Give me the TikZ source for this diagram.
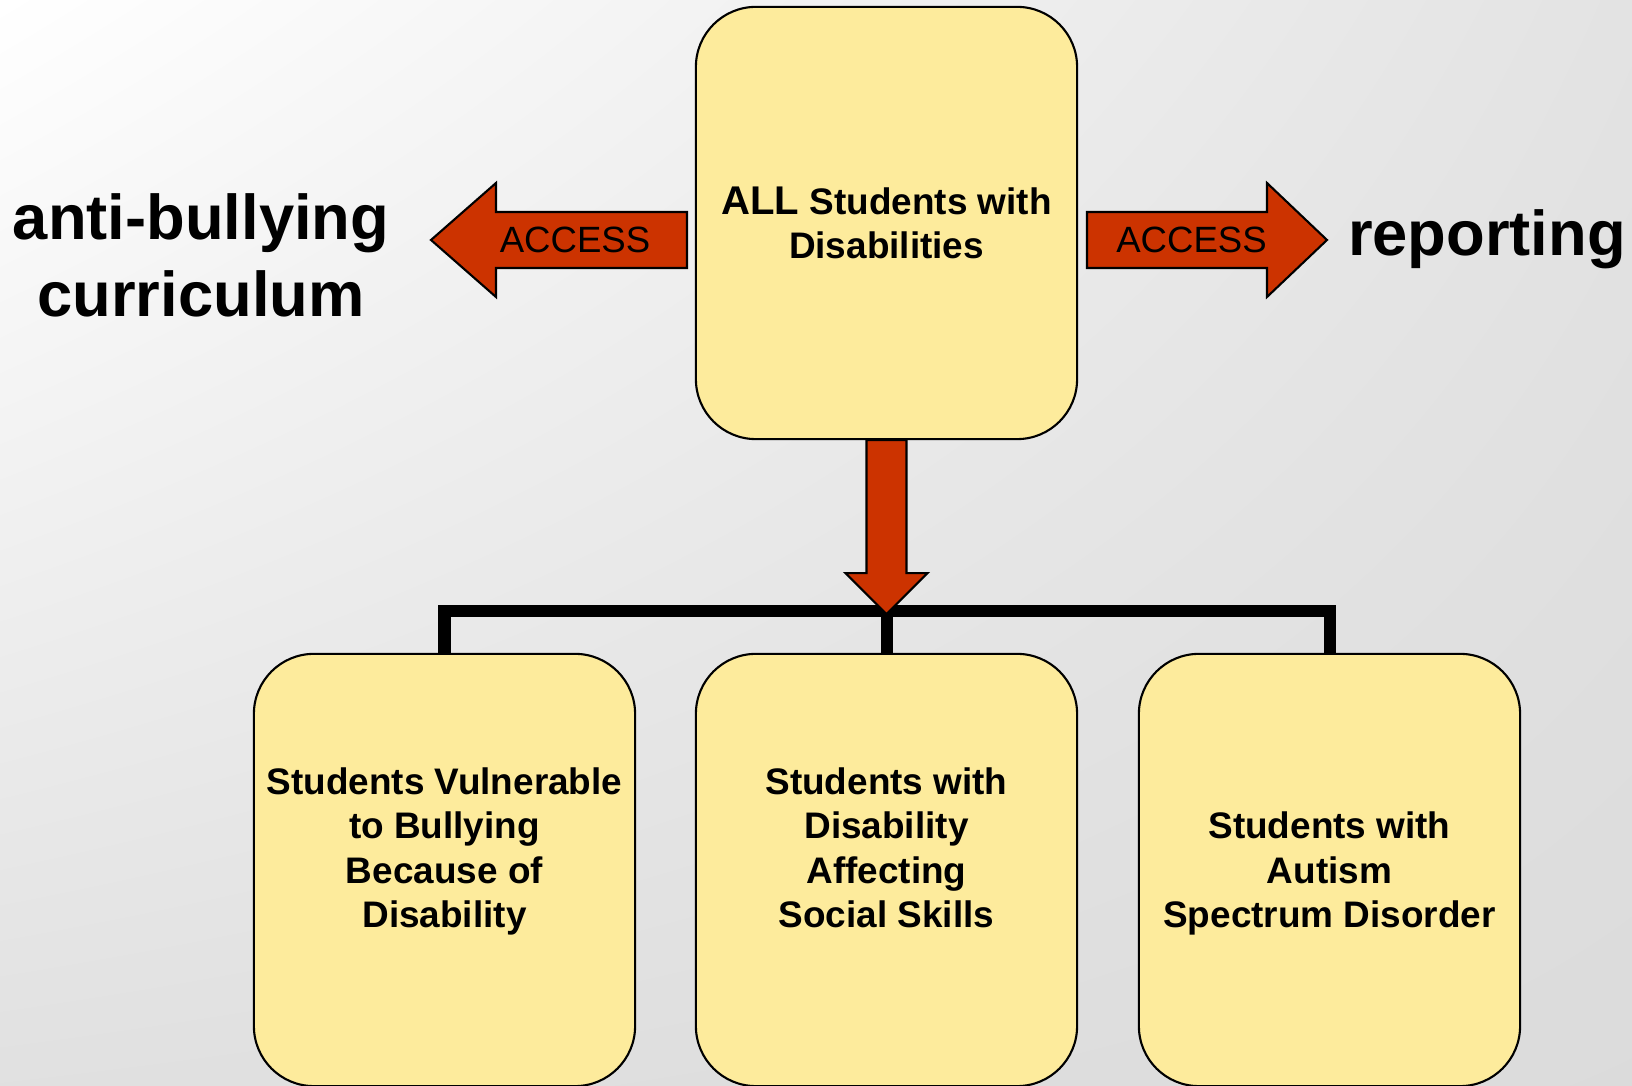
\documentclass[tikz,border=0pt]{standalone}
\usepackage{fontspec}
\setmainfont{Liberation Sans}
\usetikzlibrary{positioning,shadings}

\definecolor{boxyellow}{RGB}{253,235,156}
\definecolor{accessred}{RGB}{204,51,0}

\tikzset{
  studbox/.style={draw=black, line width=0.6pt, fill=boxyellow, rounded corners=0.6cm,
    minimum width=3.81cm, minimum height=4.32cm, inner sep=0pt, align=center,
    font=\fontsize{10.5}{12.66}\selectfont\bfseries},
  blockarrow/.style={draw=black, line width=0.6pt, fill=accessred, line join=miter},
  bigword/.style={align=center, font=\fontsize{18}{21.9}\selectfont\bfseries},
  accesslabel/.style={inner sep=0pt, font=\fontsize{10.4}{12}\selectfont},
  bar/.style={line width=1.2mm}
}

\begin{document}
\begin{tikzpicture}[x=0.01cm, y=-0.01cm]
  % Background
  \shade[upper left=white, upper right=gray!22, lower left=gray!24, lower right=gray!28]
    (0,0) rectangle (1632,1086);
  \useasboundingbox (0,0) rectangle (1632,1086);

  % Top box
  \node[studbox] (all) at (886.5,223)
    {{\fontsize{11.4}{12.66}\selectfont ALL} Students with\\Disabilities};

  % Bottom boxes
  \node[studbox] (vul) at (444.5,870)
    {Students Vulnerable\\to Bullying\\Because of\\Disability\\\mbox{}};
  \node[studbox] (soc) at (886.5,870)
    {Students with\\Disability\\Affecting\\Social Skills\\\mbox{}};
  \node[studbox, text depth=0pt] (aut) at (1329.5,870)
    {Students with\\Autism\\Spectrum Disorder};

  % Bracket
  \coordinate (join) at (886.5,611);
  \draw[bar] (vul.north) |- (join) -| (aut.north);
  \draw[bar] (join) -- (soc.north);

  % Down arrow
  \draw[blockarrow] (all.south) ++(-20,0) -- ++(0,133) -- ++(-21,0) -- ++(41,41)
    -- ++(41,-41) -- ++(-21,0) -- ++(0,-133) -- cycle;

  % Left arrow
  \draw[blockarrow] (687,212) -- (496,212) -- (496,183) -- (431,240) -- (496,297)
    -- (496,268) -- (687,268) -- cycle;
  \node[accesslabel] (accleft) at (575,240) {ACCESS};

  % Right arrow
  \draw[blockarrow] (1087,212) -- (1267,212) -- (1267,183) -- (1327,240) -- (1267,297)
    -- (1267,268) -- (1087,268) -- cycle;
  \node[accesslabel] (accright) at (1191.5,240) {ACCESS};

  % Words
  \node[bigword] (curric) at (201,255.5) {anti-bullying\\curriculum};
  \node[bigword] (report) at (1487,239) {reporting};
\end{tikzpicture}
\end{document}
